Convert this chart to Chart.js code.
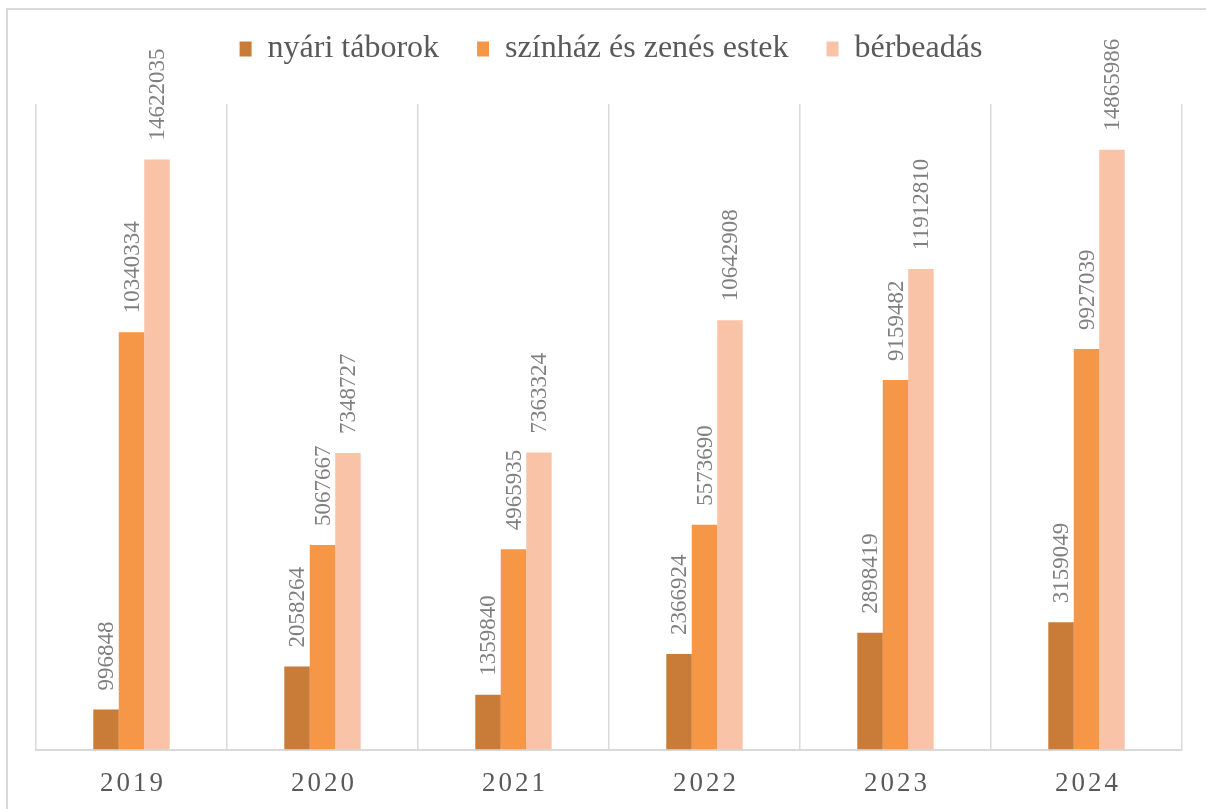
<!DOCTYPE html>
<html>
<head>
<meta charset="utf-8">
<script src="https://cdn.jsdelivr.net/npm/chart.js@4.4.1/dist/chart.umd.min.js"></script>
<style>
  html, body { margin: 0; padding: 0; background: #ffffff; overflow: hidden; }
  #wrap { position: relative; width: 1206px; height: 809px; }
  #frame { position: absolute; left: 6px; top: 8px; width: 1300px; height: 900px;
           border-left: 2px solid #d9d9d9; border-top: 2px solid #d9d9d9; box-sizing: border-box; }
  canvas { position: absolute; left: 0; top: 0; }
</style>
</head>
<body>
<div id="wrap">
  <div id="frame"></div>
  <canvas id="c" width="1206" height="809"></canvas>
</div>
<script>
const categories = ['2019', '2020', '2021', '2022', '2023', '2024'];
const seriesNames = ['nyári táborok', 'színház és zenés estek', 'bérbeadás'];
const nyariTaborok = [996848, 2058264, 1359840, 2366924, 2898419, 3159049];
const szinhazZenes = [10340334, 5067667, 4965935, 5573690, 9159482, 9927039];
const berbeadas = [14622035, 7348727, 7363324, 10642908, 11912810, 14865986];
const yMax = 16000000;

const colors = ['#C97B38', '#F69747', '#F9C3A8'];
const serifFont = "'Liberation Serif', 'Times New Roman', serif";

const barLabels = {
  id: 'barLabels',
  afterDatasetsDraw(chart) {
    const ctx = chart.ctx;
    ctx.save();
    ctx.font = "23px " + serifFont;
    ctx.fillStyle = '#7f7f7f';
    ctx.textAlign = 'left';
    ctx.textBaseline = 'middle';
    chart.data.datasets.forEach((ds, di) => {
      const meta = chart.getDatasetMeta(di);
      meta.data.forEach((bar, i) => {
        ctx.save();
        ctx.translate(bar.x + 1, bar.y - 19);
        ctx.rotate(-Math.PI / 2);
        ctx.fillText(String(ds.data[i]), 0, 0);
        ctx.restore();
      });
    });
    ctx.restore();
  }
};

const tweaks = {
  id: 'tweaks',
  beforeInit(chart) {
    const lg = chart.legend;
    if (lg && !lg._patched) {
      const origFit = lg.fit.bind(lg);
      lg.fit = function () { origFit(); this.height = 104; };
      const origDraw = lg.draw.bind(lg);
      lg.draw = function () {
        const ctx = this.ctx;
        ctx.save();
        ctx.translate(2, -5);
        origDraw();
        ctx.restore();
      };
      lg._patched = true;
    }
  },
  beforeDraw(chart) {
    const xs = chart.scales.x;
    if (xs && !xs._patchedLabels) {
      const orig = xs.drawLabels.bind(xs);
      xs.drawLabels = function (ca) {
        const ctx = this.ctx;
        ctx.save();
        ctx.letterSpacing = '3px';
        ctx.translate(1.5, 0);
        orig(ca);
        ctx.restore();
      };
      xs._patchedLabels = true;
    }
  }
};

new Chart(document.getElementById('c'), {
  type: 'bar',
  data: {
    labels: categories,
    datasets: [
      { label: seriesNames[0], data: nyariTaborok, backgroundColor: colors[0] },
      { label: seriesNames[1], data: szinhazZenes, backgroundColor: colors[1] },
      { label: seriesNames[2], data: berbeadas, backgroundColor: colors[2] }
    ]
  },
  options: {
    responsive: false,
    animation: false,
    devicePixelRatio: 1,
    layout: { padding: { left: 36, right: 24, top: 0, bottom: -9 } },
    datasets: { bar: { categoryPercentage: 0.4, barPercentage: 1.0 } },
    plugins: {
      legend: {
        position: 'top',
        labels: {
          boxWidth: 12,
          boxHeight: 15,
          padding: 38,
          color: '#595959',
          font: { family: serifFont, size: 32 }
        }
      },
      tooltip: { enabled: false }
    },
    scales: {
      x: {
        grid: { display: true, offset: true, color: '#d9d9d9', lineWidth: 1.5, drawTicks: false },
        border: { display: true, color: '#d9d9d9', width: 2 },
        ticks: { color: '#595959', padding: 18, font: { family: serifFont, size: 27 } }
      },
      y: {
        display: false,
        min: 0,
        max: yMax
      }
    }
  },
  plugins: [barLabels, tweaks]
});
</script>
</body>
</html>
